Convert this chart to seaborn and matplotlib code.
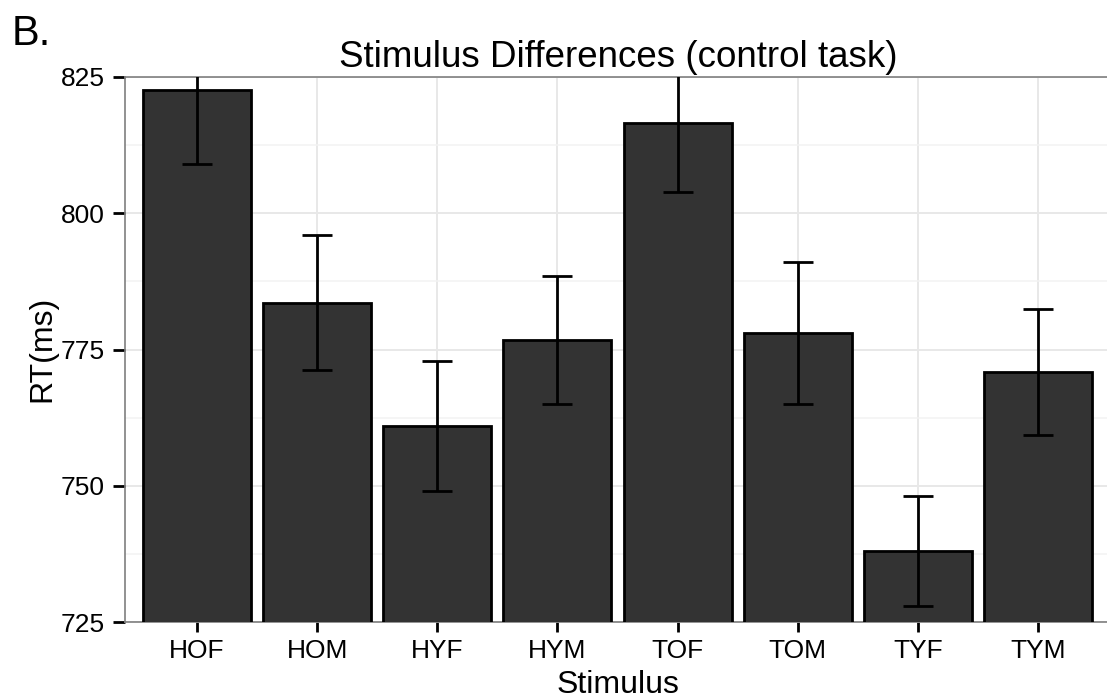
import matplotlib
matplotlib.use("Agg")
import matplotlib.pyplot as plt
from matplotlib.ticker import MultipleLocator
import numpy as np
import pandas as pd
import seaborn as sns

# Mean reaction time per stimulus and its standard error
stimuli = ["HOF", "HOM", "HYF", "HYM", "TOF", "TOM", "TYF", "TYM"]
rt_mean = [822.6, 783.6, 761.0, 776.7, 816.5, 778.0, 738.0, 770.9]
rt_se = [13.6, 12.4, 11.9, 11.7, 12.6, 13.0, 10.1, 11.6]
y_ticks = [725, 750, 775, 800, 825]

df = pd.DataFrame({"Stimulus": stimuli, "RT": rt_mean, "SE": rt_se})

sns.set_theme(style="white")
plt.rcParams["font.family"] = ["Liberation Sans", "DejaVu Sans"]
plt.rcParams["text.color"] = "black"
plt.rcParams["axes.labelcolor"] = "black"
plt.rcParams["xtick.color"] = "black"
plt.rcParams["ytick.color"] = "black"

W, H = 1107, 698
fig = plt.figure(figsize=(W / 100, H / 100), dpi=100)
ax = fig.add_axes([125 / W, 76 / H, (1110 - 125) / W, 545 / H])

sns.barplot(data=df, x="Stimulus", y="RT", order=stimuli, color="#333333",
            saturation=1, edgecolor="black", linewidth=2.0, width=0.9,
            errorbar=None, ax=ax, zorder=3)

xpos = np.arange(len(stimuli))
ax.errorbar(xpos, df["RT"], yerr=df["SE"], fmt="none", ecolor="black",
            elinewidth=2.0, capsize=11, capthick=2.0, zorder=4)

ax.set_xlim(-0.6, len(stimuli) - 0.4)
ax.set_ylim(725, 825)
ax.set_yticks(y_ticks)
ax.yaxis.set_minor_locator(MultipleLocator(12.5))

# Light grid behind the bars
ax.set_axisbelow(True)
ax.grid(True, which="major", axis="both", color="#E8E8E8", linewidth=1.4, zorder=0)
ax.grid(True, which="minor", axis="y", color="#F2F2F2", linewidth=1.1, zorder=0)

for side in ["top", "left", "bottom", "right"]:
    ax.spines[side].set_color("#7F7F7F")
    ax.spines[side].set_linewidth(1.2)

ax.tick_params(axis="y", which="major", length=8.5, width=2.0, color="black",
               labelsize=19, pad=6, labelcolor="black", left=True)
ax.tick_params(axis="y", which="minor", length=0)
ax.tick_params(axis="x", which="major", length=7.5, width=2.0, color="black",
               labelsize=19, pad=5, labelcolor="black", bottom=True)

ax.set_xlabel("")
ax.set_ylabel("")
fig.text(618 / W, 1 - 693 / H, "Stimulus", fontsize=23, ha="center", va="baseline")
fig.text(42 / W, 1 - 349 / H, "RT(ms)", fontsize=23, ha="center", va="center",
         rotation=90)

fig.text(618 / W, 1 - 67 / H, "Stimulus Differences (control task)",
         fontsize=26.5, ha="center", va="baseline")
fig.text(12 / W, 1 - 45 / H, "B.", fontsize=30, ha="left", va="baseline")

fig.savefig("out.png", dpi=100)
